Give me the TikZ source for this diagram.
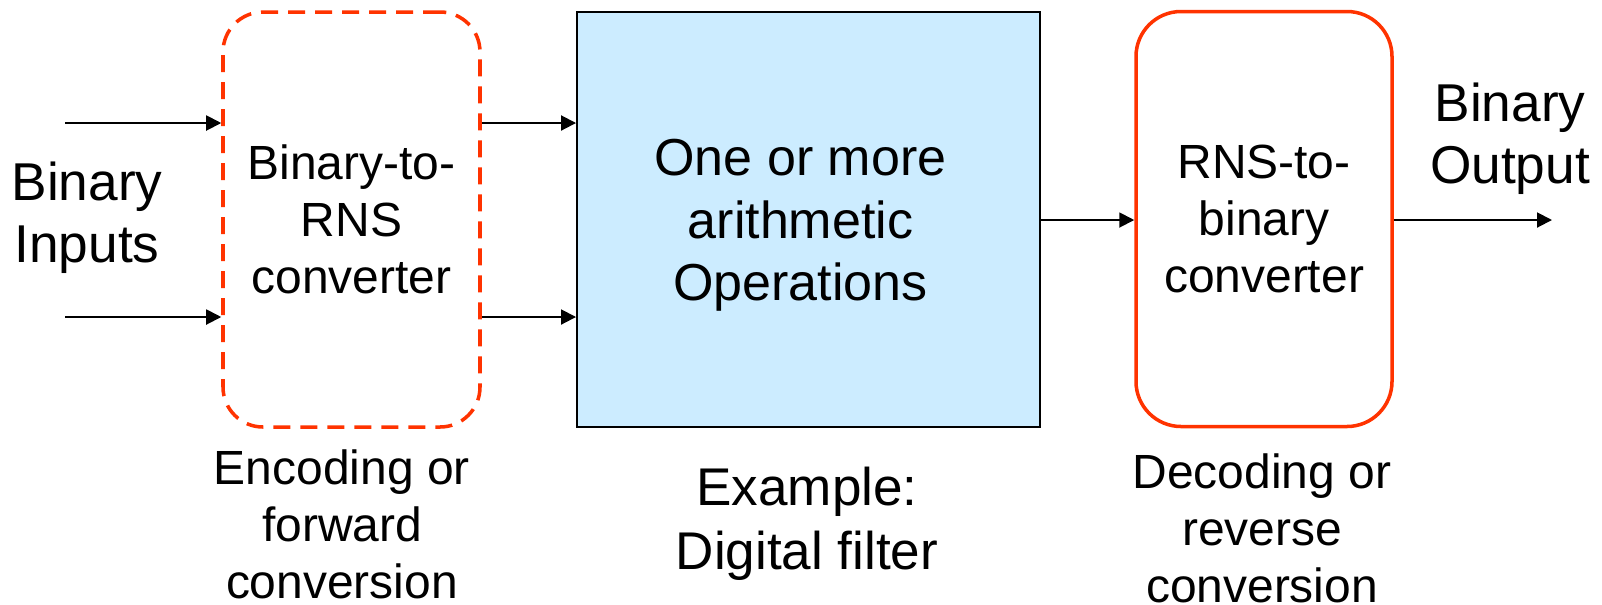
\documentclass[tikz,border=0pt]{standalone}
\usepackage{fontspec}
\setmainfont{Liberation Sans}
\usetikzlibrary{arrows.meta,positioning}
\definecolor{cred}{HTML}{FF3300}
\definecolor{cblue}{HTML}{CCECFF}

\begin{document}
\begin{tikzpicture}[every node/.style={inner sep=0pt,align=center},
  big/.style={font=\fontsize{30.3}{35}\selectfont},
  small/.style={font=\fontsize{27.3}{32.5}\selectfont},
  conv/.style={small,draw=cred,line width=2pt,minimum height=8.3cm},
  flow/.style={-{Triangle[length=0.3cm,width=0.3cm]},line width=1.1pt}]
  \useasboundingbox (0,0) rectangle (32.04,-12.08);

  % blocks
  \node[conv,dash pattern=on 0.34cm off 0.2cm,rounded corners=0.8cm,minimum width=5.14cm] (enc) at (7.03,-4.39) {Binary-to-\\RNS\\converter};
  \node[draw,fill=cblue,line width=1.1pt,minimum width=9.26cm,minimum height=8.3cm] (ops) at (16.17,-4.39) {};
  \node[font=\fontsize{29.6}{35.5}\selectfont] (opstxt) at ([xshift=-0.16cm,yshift=-0.12cm]ops.center) {One or more\\arithmetic\\Operations};
  \node[conv,rounded corners=0.9cm,minimum width=5.12cm] (dec) at (25.28,-4.38) {RNS-to-\\binary\\converter};

  % in and out
  \coordinate (in1) at (1.3,-2.46);
  \coordinate (in2) at (1.3,-6.34);
  \coordinate (out) at (31.04,-4.4);
  \draw[flow] (in1) -- (in1 -| enc.west);
  \draw[flow] (in2) -- (in2 -| enc.west);
  \draw[flow] (enc.east |- in1) -- (ops.west |- in1);
  \draw[flow] (enc.east |- in2) -- (ops.west |- in2);
  \draw[flow] (ops.east |- out) -- (dec.west |- out);
  \draw[flow] (dec.east |- out) -- (out);

  % labels
  \node[big,anchor=north] (inputs) at (1.74,-3.24) {Binary\\Inputs};
  \node[big,anchor=north] (output) at (30.2,-1.66) {Binary\\Output};
  \node[small,anchor=north] (enclbl) at (6.84,-8.98) {Encoding or\\forward\\conversion};
  \node[anchor=north,font=\fontsize{30.2}{36}\selectfont] (example) at (16.14,-9.34) {Example:\\Digital filter};
  \node[small,anchor=north] (declbl) at (25.24,-9.06) {Decoding or\\reverse\\conversion};
\end{tikzpicture}
\end{document}
